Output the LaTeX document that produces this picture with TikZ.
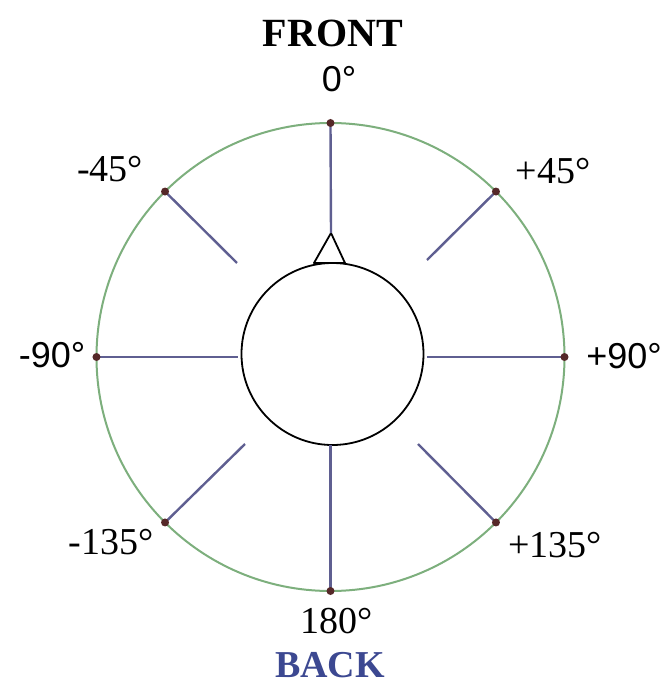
\documentclass[tikz,border=0pt]{standalone}
\usepackage{fontspec}
\setmainfont{Liberation Serif}
\newfontfamily\labelsans{Liberation Sans}
\definecolor{ringgreen}{RGB}{125,175,125}
\definecolor{spokeblue}{RGB}{95,95,145}
\definecolor{dotbrown}{RGB}{85,40,40}
\definecolor{backblue}{RGB}{60,72,145}
\tikzset{
  spoke/.style={spokeblue, line width=2.4pt},
  angdot/.style={fill=dotbrown},
  anglabel/.style={font=\fontsize{38}{40}\selectfont, inner sep=0pt},
  sidelabel/.style={font=\labelsans\fontsize{36}{40}\selectfont, inner sep=0pt},
}
\begin{document}
\begin{tikzpicture}[x=1pt, y=1pt]
    \useasboundingbox (-330.5,-334) rectangle (334.5,357);

    % Outer ring
    \draw[ringgreen, line width=2pt] (0,0) circle (234);

    % Head and nose
    \coordinate (H) at (2,3);
    \draw[black, line width=1.8pt] (H) circle (91);
    \coordinate (nosetip) at (0.5,124);
    \draw[black, line width=1.8pt, line join=round] (-16.5,94) -- (nosetip) -- (14.5,94) -- cycle;

    % Points on the ring
    \coordinate (a0)   at (90:234);
    \coordinate (ap45) at (45:234);
    \coordinate (ap90) at (0:234);
    \coordinate (ap135) at (-45:234);
    \coordinate (a180) at (-90:234);
    \coordinate (am135) at (-135:234);
    \coordinate (am90) at (180:234);
    \coordinate (am45) at (135:234);

    % Inner ends of the spokes
    \coordinate (i0)    at (nosetip);
    \coordinate (ip45)  at (96.5,97);
    \coordinate (ip90)  at (96.5,0);
    \coordinate (ip135) at (87.5,-87);
    \coordinate (i180)  at (0,-88);
    \coordinate (im135) at (-85.5,-87);
    \coordinate (im90)  at (-92.5,0);
    \coordinate (im45)  at (-93.5,94);

    % Spokes
    \draw[spoke] (a0) -- (i0);
    \draw[spoke] (ap45) -- (ip45);
    \draw[spoke] (ap90) -- (ip90);
    \draw[spoke] (ap135) -- (ip135);
    \draw[spoke] (a180) -- (i180);
    \draw[spoke] (am135) -- (im135);
    \draw[spoke] (am90) -- (im90);
    \draw[spoke] (am45) -- (im45);

    % Dots
    \foreach \p in {a0,ap45,ap90,ap135,a180,am135,am90,am45}
        \fill[angdot] (\p) circle (4);

    % Labels
    \node[anglabel, font=\bfseries\fontsize{40}{42}\selectfont] (front) at (2.5,324) {FRONT};
    \node[sidelabel] (l0) at (8.5,278) {0°};
    \node[anglabel] (lm45) at (-220.5,188) {-45°};
    \node[anglabel] (lp45) at (222.5,186) {+45°};
    \node[sidelabel] (lm90) at (-278.5,2) {-90°};
    \node[sidelabel] (lp90) at (293.5,1) {+90°};
    \node[anglabel] (lm135) at (-219.5,-185) {-135°};
    \node[anglabel] (lp135) at (224.5,-188) {+135°};
    \node[anglabel] (l180) at (6.5,-264) {180°};
    \node[anglabel, backblue, font=\bfseries\fontsize{38}{40}\selectfont] (back) at (-0.5,-308) {BACK};
\end{tikzpicture}
\end{document}
